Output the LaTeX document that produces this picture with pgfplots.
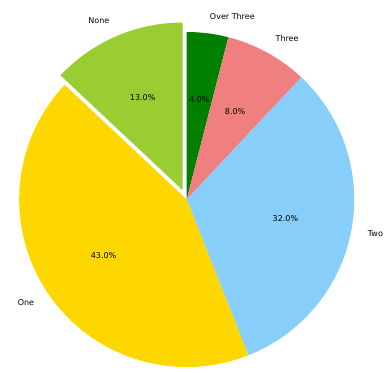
\documentclass[border=0pt]{standalone}
\usepackage{pgfplots}
\usepackage{pgfplotstable}
\pgfplotsset{compat=1.18}
\usepackage{fontspec}
\setmainfont{DejaVu Sans}
\definecolor{cOver}{RGB}{0,128,0}
\definecolor{cThree}{RGB}{240,128,128}
\definecolor{cTwo}{RGB}{135,206,250}
\definecolor{cOne}{RGB}{255,215,0}
\definecolor{cNone}{RGB}{154,205,50}
\tikzset{pl/.style={inner sep=0pt, font=\fontsize{8}{9.6}\selectfont}}
\pgfplotstableread{
pct
4
8
32
43
13
}\piedata
\begin{document}
\begin{tikzpicture}
\pgfplotstablegetelem{0}{pct}\of\piedata \let\pA=\pgfplotsretval
\pgfplotstablegetelem{1}{pct}\of\piedata \let\pB=\pgfplotsretval
\pgfplotstablegetelem{2}{pct}\of\piedata \let\pC=\pgfplotsretval
\pgfplotstablegetelem{3}{pct}\of\piedata \let\pD=\pgfplotsretval
\pgfplotstablegetelem{4}{pct}\of\piedata \let\pE=\pgfplotsretval
\pgfmathsetmacro\aA{90}
\pgfmathsetmacro\aB{\aA-3.6*\pA}
\pgfmathsetmacro\aC{\aB-3.6*\pB}
\pgfmathsetmacro\aD{\aC-3.6*\pC}
\pgfmathsetmacro\aE{\aD-3.6*\pD}
\pgfmathsetmacro\aF{\aE-3.6*\pE}
\def\cx{186.7}\def\cy{-199.5}\def\R{167.5}
% explode offset for None
\pgfmathsetmacro\mE{(\aE+\aF)/2}
\pgfmathsetmacro\ex{\cx+10.3*cos(\mE)}
\pgfmathsetmacro\ey{\cy+10.3*sin(\mE)}
\begin{axis}[
  width=387pt, height=372pt, scale only axis,
  xmin=0, xmax=387, ymin=-372, ymax=0,
  hide axis, clip=false,
]
\path (rel axis cs:0,0) -- (rel axis cs:1,1);
\newcommand{\slice}[5]{%
  \addplot[fill=#1, draw=none, domain=#3:#2, samples=90]
    ({#4+\R*cos(x)}, {#5+\R*sin(x)}) -- (axis cs:#4,#5) -- cycle;}
\slice{cOver}{\aA}{\aB}{\cx}{\cy}
\slice{cThree}{\aB}{\aC}{\cx}{\cy}
\slice{cTwo}{\aC}{\aD}{\cx}{\cy}
\slice{cOne}{\aD}{\aE}{\cx}{\cy}
\slice{cNone}{\aE}{\aF}{\ex}{\ey}
\newcommand{\pielab}[7]{% start, end, ox, oy, anchor, label, pct
  \pgfmathsetmacro\mm{(#1+#2)/2}%
  \pgfmathsetmacro\lx{#3+1.1*\R*cos(\mm)}%
  \pgfmathsetmacro\ly{#4+1.1*\R*sin(\mm)}%
  \pgfmathsetmacro\px{#3+0.6*\R*cos(\mm)}%
  \pgfmathsetmacro\py{#4+0.6*\R*sin(\mm)}%
  \edef\tmp{\noexpand\node[pl, anchor=#5] at (axis cs:\lx,\ly) {\unexpanded{#6}};}\tmp
  \edef\tmp{\noexpand\node[pl, anchor=center] at (axis cs:\px,\py) {\noexpand\pgfmathprintnumber[fixed,fixed zerofill,precision=1,assume math mode=true]{#7}\noexpand\%};}\tmp}
\pielab{\aA}{\aB}{\cx}{\cy}{west}{Over Three}{\pA}
\pielab{\aB}{\aC}{\cx}{\cy}{west}{Three}{\pB}
\pielab{\aC}{\aD}{\cx}{\cy}{west}{Two}{\pC}
\pielab{\aD}{\aE}{\cx}{\cy}{east}{One}{\pD}
\pielab{\aE}{\aF}{\ex}{\ey}{east}{None}{\pE}
\end{axis}
\end{tikzpicture}
\end{document}
